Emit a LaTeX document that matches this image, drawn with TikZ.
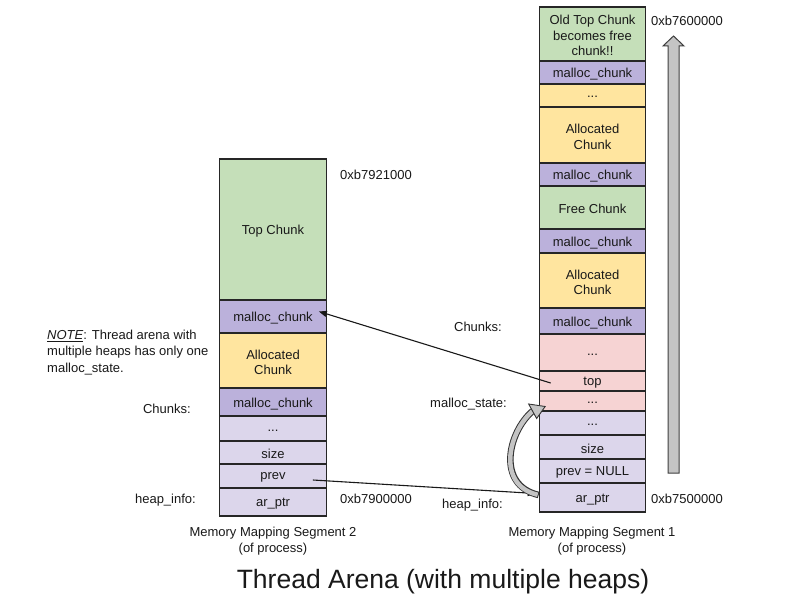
\documentclass[tikz,border=0pt]{standalone}
\usepackage{fontspec}
\setmainfont{Liberation Sans}
\usetikzlibrary{calc,arrows.meta}
\definecolor{cgreen}{HTML}{C5DFB9}
\definecolor{cpurple}{HTML}{BBB1DB}
\definecolor{clav}{HTML}{DCD6EB}
\definecolor{cyellow}{HTML}{FFE59F}
\definecolor{cpink}{HTML}{F6D3D3}
\definecolor{cgray}{HTML}{C4C4C4}
\tikzset{
  cellbox/.style={draw=black!85, line width=1.2pt, minimum width=106.5pt, inner sep=0pt},
  celltext/.style={inner sep=0pt, align=center, font=\fontsize{13}{15.5}\selectfont, text=black!90},
  lbl/.style={inner sep=0pt, font=\fontsize{13}{16.5}\selectfont, text=black!90},
  conn/.style={line width=1.1pt, draw=black!90, -{Triangle[length=8pt,width=6pt]}},
}
\newcommand\mkcell[6]{%
  \node[cellbox, fill=#2, minimum height={(#5-#4)*1pt}] (#1) at (#3,{(#4+#5)/2}) {};
  \node[celltext] (#1t) at ($(#1.center)+(0,1.8)$) {#6};}
\begin{document}
\begin{tikzpicture}[x=1pt,y=-1pt]
\useasboundingbox (0,0) rectangle (791,594);
\fill[white] (0,0) rectangle (791,594);

% left column (segment 2)
\mkcell{ltop}{cgreen}{273}{159}{300}{Top Chunk}
\mkcell{lmca}{cpurple}{273}{300}{333}{malloc\_chunk}
\mkcell{lalloc}{cyellow}{273}{333}{388}{Allocated\\Chunk}
\mkcell{lmcb}{cpurple}{273}{388}{416}{malloc\_chunk}
\mkcell{ldots}{clav}{273}{416}{441}{...}
\mkcell{lsize}{clav}{273}{441}{464}{size}
\mkcell{lprev}{clav}{273}{464}{488}{prev}
\mkcell{lar}{clav}{273}{488}{516}{ar\_ptr}

% right column (segment 1)
\mkcell{ra}{cgreen}{592.5}{7}{61}{Old Top Chunk\\becomes free\\chunk!!}
\mkcell{rb}{cpurple}{592.5}{61}{84}{malloc\_chunk}
\mkcell{rc}{cyellow}{592.5}{84}{107}{...}
\mkcell{rd}{cyellow}{592.5}{107}{163}{Allocated\\Chunk}
\mkcell{re}{cpurple}{592.5}{163}{186}{malloc\_chunk}
\mkcell{rf}{cgreen}{592.5}{186}{229}{Free Chunk}
\mkcell{rg}{cpurple}{592.5}{229}{253}{malloc\_chunk}
\mkcell{rh}{cyellow}{592.5}{253}{308}{Allocated\\Chunk}
\mkcell{ri}{cpurple}{592.5}{308}{334}{malloc\_chunk}
\mkcell{rj}{cpink}{592.5}{334}{371}{...}
\mkcell{rk}{cpink}{592.5}{371}{391}{top}
\mkcell{rl}{cpink}{592.5}{391}{411}{...}
\mkcell{rm}{clav}{592.5}{411}{435}{...}
\mkcell{rn}{clav}{592.5}{435}{459}{size}
\mkcell{ro}{clav}{592.5}{459}{483}{prev = NULL}
\mkcell{rp}{clav}{592.5}{483}{512}{ar\_ptr}

% address labels
\node[lbl, anchor=west] (a1) at (340,175) {0xb7921000};
\node[lbl, anchor=west] (a2) at (340,498.5) {0xb7900000};
\node[lbl, anchor=west] (a3) at (651,21) {0xb7600000};
\node[lbl, anchor=west] (a4) at (651,498.5) {0xb7500000};

% side labels
\node[lbl, anchor=east] (c1) at (191,409) {Chunks:};
\node[lbl, anchor=east] (h1) at (196,500) {heap\_info:};
\node[lbl, anchor=east] (c2) at (502,327) {Chunks:};
\node[lbl, anchor=east] (ms) at (507,404) {malloc\_state:};
\node[lbl, anchor=east] (h2) at (503,505) {heap\_info:};
\node[lbl, anchor=west, align=left] (note) at (47,352.5)
  {\underline{\textit{NOTE}}: Thread arena with\\multiple heaps has only one\\malloc\_state.};

\node[lbl, align=center] (m2) at (273,541) {Memory Mapping Segment 2\\(of process)};
\node[lbl, align=center] (m1) at (592,541) {Memory Mapping Segment 1\\(of process)};
\node[inner sep=0pt, font=\fontsize{26.5}{30}\selectfont, text=black!90] (title) at (443,582)
  {Thread Arena (with multiple heaps)};

% growth arrow
\draw[fill=cgray, draw=black!75, line width=1pt]
  (668,473) -- (668,46) -- (663,46) -- (673.5,36) -- (684,46) -- (679,46) -- (679,473) -- cycle;

% connectors
\draw[conn] ($(rk.west)+(12,2)$) -- ($(lmca.east)+(-8,-5)$);
\draw[conn] ($(lprev.east)+(-14,4)$) -- ($(rp.west)+(-3,-4)$);

% curved block arrow ar_ptr -> malloc_state
\coordinate (cs) at ($(rp.west)+(0,-2.5)$);
\coordinate (ce) at ($(rl.west)+(-6,10)$);
\draw[line width=6.5pt, draw=black!80] (cs) .. controls (496,485) and (508,432) .. (ce);
\draw[line width=4.5pt, draw=cgray, shorten <=1pt] (cs) .. controls (496,485) and (508,432) .. (ce);
\draw[fill=cgray, draw=black!80, line width=0.9pt, line join=miter]
  ($(ce)+(12.5,-4.5)$) -- ($(ce)+(4,7.5)$) -- ($(ce)+(-4,-7)$) -- cycle;
\end{tikzpicture}
\end{document}
